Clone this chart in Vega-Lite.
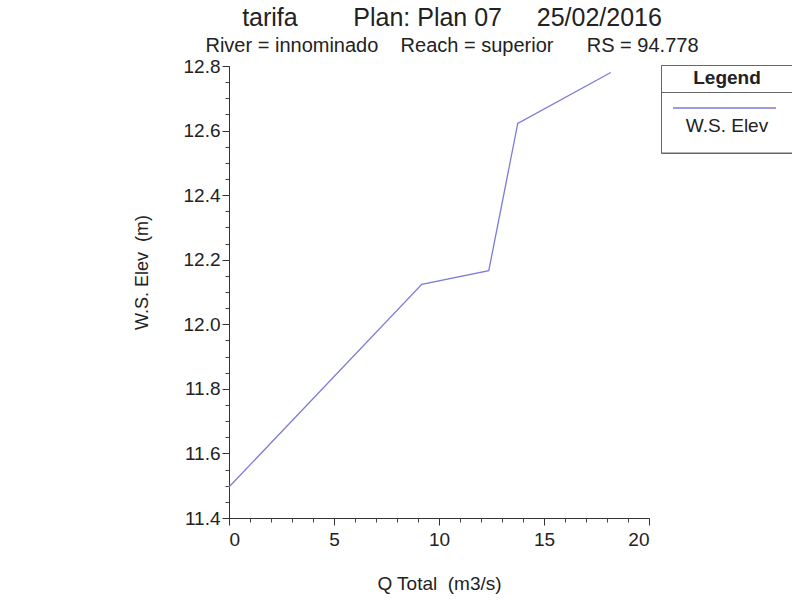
{
  "$schema": "https://vega.github.io/schema/vega-lite/v6.json",
  "width": 420,
  "height": 452,
  "autosize": {"type": "none"},
  "padding": {"left": 229, "top": 66, "right": 143, "bottom": 89},
  "background": "white",
  "title": {
    "text": "tarifa\u00a0\u00a0\u00a0\u00a0\u00a0\u00a0\u00a0\u00a0Plan: Plan 07\u00a0\u00a0\u00a0\u00a0\u00a025/02/2016",
    "subtitle": "River = innominado\u00a0\u00a0\u00a0\u00a0Reach = superior\u00a0\u00a0\u00a0\u00a0\u00a0\u00a0RS = 94.778",
    "anchor": "middle",
    "frame": "group",
    "dx": 13,
    "offset": 1,
    "font": "Liberation Sans",
    "subtitleFont": "Liberation Sans",
    "fontSize": 25,
    "subtitleFontSize": 20,
    "fontWeight": "normal",
    "color": "#222222",
    "subtitleColor": "#222222",
    "subtitlePadding": 5
  },
  "config": {
    "view": {"stroke": null},
    "font": "Liberation Sans"
  },
  "data": {
    "values": [
      {"q": 0, "wse": 11.496, "series": "W.S. Elev"},
      {"q": 9.18, "wse": 12.124, "series": "W.S. Elev"},
      {"q": 12.37, "wse": 12.166, "series": "W.S. Elev"},
      {"q": 13.75, "wse": 12.622, "series": "W.S. Elev"},
      {"q": 18.18, "wse": 12.78, "series": "W.S. Elev"}
    ]
  },
  "layer": [
    {
      "mark": {"type": "line", "strokeOpacity": 0},
      "encoding": {
        "x": {
          "field": "q", "type": "quantitative",
          "scale": {"domain": [0, 20], "nice": false, "zero": false},
          "axis": {
            "orient": "bottom", "title": null, "labels": false, "domain": false, "grid": false,
            "values": [0,1,2,3,4,5,6,7,8,9,10,11,12,13,14,15,16,17,18,19,20],
            "tickSize": 4, "tickColor": "#444444"
          }
        },
        "y": {
          "field": "wse", "type": "quantitative",
          "scale": {"domain": [11.4, 12.8], "nice": false, "zero": false},
          "axis": {
            "orient": "left", "title": null, "labels": false, "domain": false, "grid": false,
            "values": [11.4,11.45,11.5,11.55,11.6,11.65,11.7,11.75,11.8,11.85,11.9,11.95,12.0,12.05,12.1,12.15,12.2,12.25,12.3,12.35,12.4,12.45,12.5,12.55,12.6,12.65,12.7,12.75,12.8],
            "tickSize": 4, "tickColor": "#444444"
          }
        }
      }
    },
    {
      "mark": {"type": "line", "strokeWidth": 1.3},
      "encoding": {
        "x": {
          "field": "q", "type": "quantitative",
          "scale": {"domain": [0, 20], "nice": false, "zero": false},
          "axis": {
            "orient": "bottom", "title": "Q Total\u00a0\u00a0(m3/s)", "grid": false,
            "values": [0, 5, 10, 15, 20],
            "tickSize": 7, "tickColor": "#333333", "domainColor": "#333333",
            "labelFontSize": 19, "labelColor": "#222222", "labelPadding": 5,
            "titleFontSize": 19, "titleFontWeight": "normal", "titleColor": "#222222", "titlePadding": 25
          }
        },
        "y": {
          "field": "wse", "type": "quantitative",
          "scale": {"domain": [11.4, 12.8], "nice": false, "zero": false},
          "axis": {
            "orient": "left", "title": "W.S. Elev\u00a0\u00a0(m)", "grid": false,
            "values": [11.4, 11.6, 11.8, 12.0, 12.2, 12.4, 12.6, 12.8],
            "format": ".1f",
            "tickSize": 7, "tickColor": "#333333", "domainColor": "#333333",
            "labelFontSize": 19, "labelColor": "#222222", "labelPadding": 2,
            "titleFontSize": 18, "titleFontWeight": "normal", "titleColor": "#222222",
            "titlePadding": 32, "titleY": 206
          }
        },
        "color": {
          "field": "series", "type": "nominal",
          "scale": {"range": ["#7b7bdc"]},
          "legend": {
            "orient": "none", "legendX": 432, "legendY": -1,
            "title": "Legend", "titleFontSize": 19, "titleFontWeight": "bold", "titleColor": "#222222",
            "titleAnchor": "middle", "titlePadding": 8,
            "strokeColor": "#666666", "padding": 0,
            "symbolType": "stroke", "symbolSize": 10600, "symbolStrokeWidth": 1.3, "symbolOffset": 11,
            "clipHeight": 32,
            "labelFontSize": 19, "labelColor": "#222222",
            "labelAlign": "center", "labelBaseline": "top", "labelOffset": -50,
            "encode": {
              "title": {"update": {"dy": {"value": 4}}},
              "labels": {"update": {"dy": {"value": 9}}},
              "entries": {"update": {
                "width": {"value": 131},
                "height": {"value": 60},
                "stroke": {"value": "#666666"},
                "strokeWidth": {"value": 1}
              }}
            }
          }
        }
      }
    }
  ],
  "resolve": {"axis": {"x": "independent", "y": "independent"}}
}
